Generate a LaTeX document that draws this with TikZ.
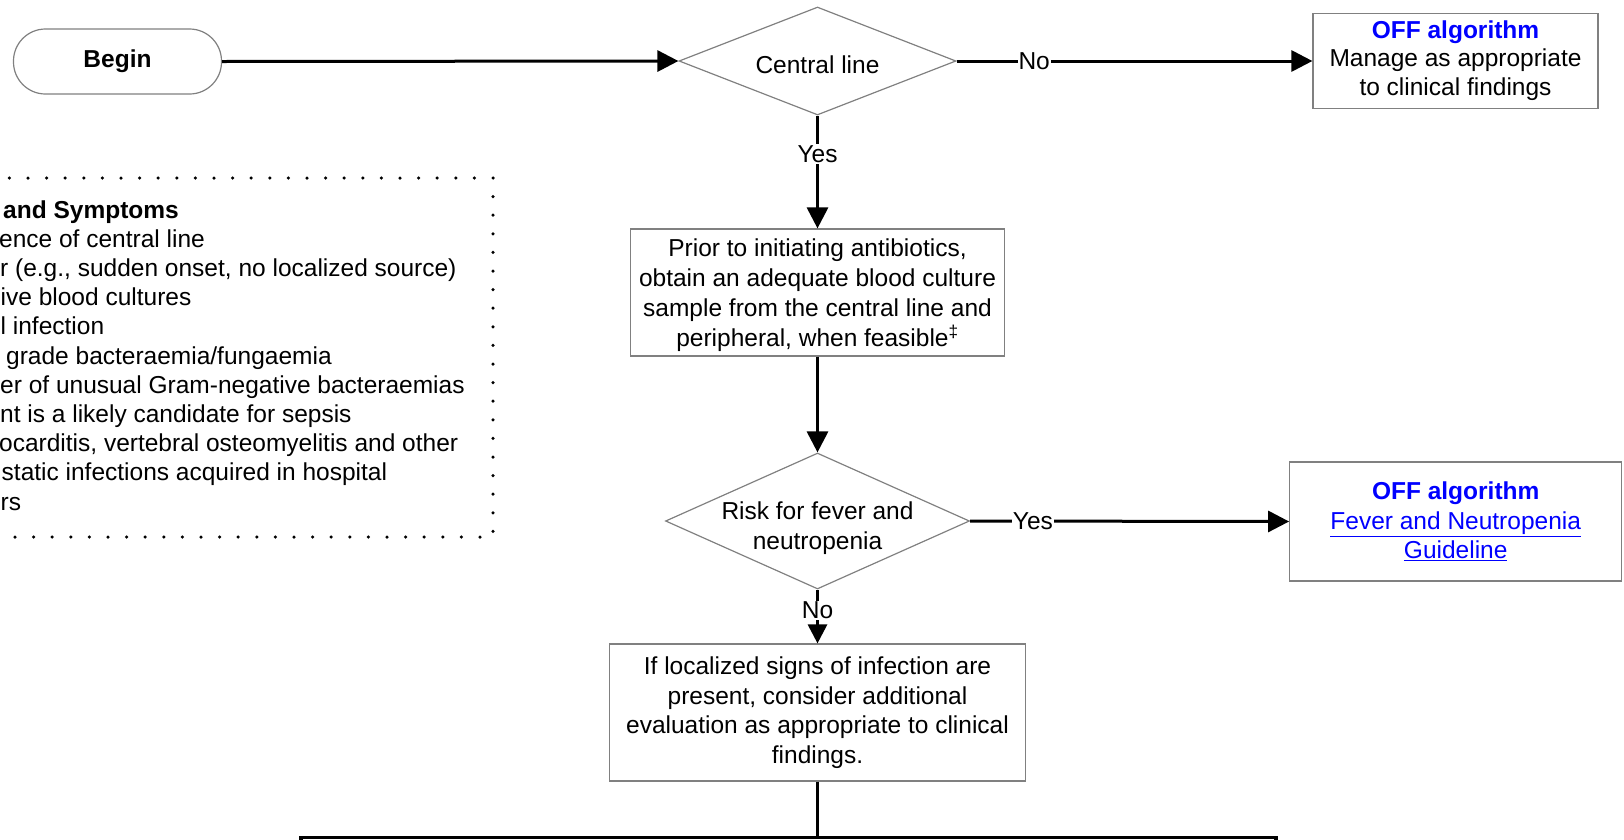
\documentclass[tikz,border=0pt]{standalone}
\usepackage{fontspec}
\setmainfont{Liberation Sans}
\usetikzlibrary{shapes.geometric,arrows.meta}
\definecolor{boxgray}{RGB}{128,128,128}
\definecolor{offblue}{RGB}{0,0,255}
\begin{document}
\begin{tikzpicture}[x=1pt,y=-1pt,
  every node/.style={font=\fontsize{24.5}{29.5}\selectfont},
  procbox/.style={draw=boxgray, line width=1.2pt, rectangle, align=center, inner sep=0pt},
  decision/.style={draw=boxgray, line width=1.2pt, diamond, inner sep=0pt},
  startbox/.style={draw=boxgray, line width=1.2pt, rectangle, rounded corners=32pt, inner sep=0pt},
  conn/.style={line width=3pt, -{Triangle[length=21pt,width=21pt]}},
  smallconn/.style={line width=3pt, -{Triangle[length=19pt,width=19pt]}},
  plainconn/.style={line width=3pt},
  lbl/.style={fill=white, inner sep=1pt},
  sidetext/.style={anchor=mid west, inner sep=0pt},
  dotbox/.style={line width=3.5pt, line cap=round, dash pattern=on 0pt off 18.6pt},
]
\useasboundingbox (0,0) rectangle (1624,839);
\clip (0,0) rectangle (1624,839);

% dotted signs and symptoms box
\draw[dotbox] (493,178) -- (-60,178) (493,178) -- (493,537) -- (-60,537);
\node[sidetext, font=\fontsize{24.5}{29.5}\selectfont\bfseries] (s1) at (3,215.5) {and Symptoms};
\node[sidetext] (s2) at (-1,244.7) {ence of central line};
\node[sidetext] (s3) at (0,273.9) {r (e.g., sudden onset, no localized source)};
\node[sidetext] (s4) at (0.5,303.1) {ive blood cultures};
\node[sidetext] (s5) at (0.5,332.3) {l infection};
\node[sidetext] (s6) at (6,361.5) {grade bacteraemia/fungaemia};
\node[sidetext] (s7) at (0,390.7) {er of unusual Gram-negative bacteraemias};
\node[sidetext] (s8) at (0,419.9) {nt is a likely candidate for sepsis};
\node[sidetext] (s9) at (-1,449.1) {ocarditis, vertebral osteomyelitis and other};
\node[sidetext] (s10) at (1.5,478.3) {static infections acquired in hospital};
\node[sidetext] (s11) at (0.5,507.5) {rs};

% flow nodes
\node[startbox, minimum width=208pt, minimum height=65pt, font=\fontsize{24.5}{29.5}\selectfont\bfseries] (begin) at (117.5,61.5) {Begin};
\node[decision, minimum width=277pt, minimum height=108pt,
      label={[name=d1text, yshift=-4pt]center:Central line}] (d1) at (817.5,61) {};
\node[procbox, minimum width=285pt, minimum height=95pt] (off1) at (1455.5,61)
  {\raisebox{-2pt}{\textcolor{offblue}{\bfseries OFF algorithm}}\\Manage as appropriate\\to clinical findings};
\node[procbox, minimum width=374pt, minimum height=127pt,
      label={[name=pretext, align=center, font=\fontsize{24.5}{30}\selectfont, yshift=-3pt]center:Prior to initiating antibiotics,\\obtain an adequate blood culture\\sample from the central line and\\peripheral, when feasible\textsuperscript{‡}}] (pre) at (817.5,292.5) {};
\node[decision, minimum width=304pt, minimum height=136pt,
      label={[name=d2text, align=center, yshift=-7pt]center:Risk for fever and\\neutropenia}] (d2) at (817.5,521) {};
\node[procbox, minimum width=332pt, minimum height=119pt] (off2) at (1455.7,521.5)
  {\textcolor{offblue}{\bfseries OFF algorithm}\\\textcolor{offblue}{\underline{Fever and Neutropenia}}\\\textcolor{offblue}{\underline{Guideline}}};
\node[procbox, minimum width=416pt, minimum height=137pt] (local) at (817.5,712.5)
  {If localized signs of infection are\\present, consider additional\\evaluation as appropriate to clinical\\findings.};
\node[draw=black, line width=3.5pt, rectangle, minimum width=975pt, minimum height=80pt, inner sep=0pt, anchor=north] (next) at (788.5,835.5) {};

% connectors
\draw[conn] (begin.east) -- (d1.west);
\draw[conn] (d1.east) -- node[lbl, pos=0.218] (lno1) {No} (off1.west);
\draw[conn] (d1.south) -- node[lbl, pos=0.34] (lyes1) {Yes} (pre.north);
\draw[conn] (pre.south) -- (d2.north);
\draw[conn] (d2.east) -- node[lbl, pos=0.197] (lyes2) {Yes} (off2.west);
\draw[smallconn] (d2.south) -- node[lbl, pos=0.38] (lno2) {No} (local.north);
\draw[plainconn] (local.south) -- (local.south |- next.north);
\end{tikzpicture}
\end{document}
